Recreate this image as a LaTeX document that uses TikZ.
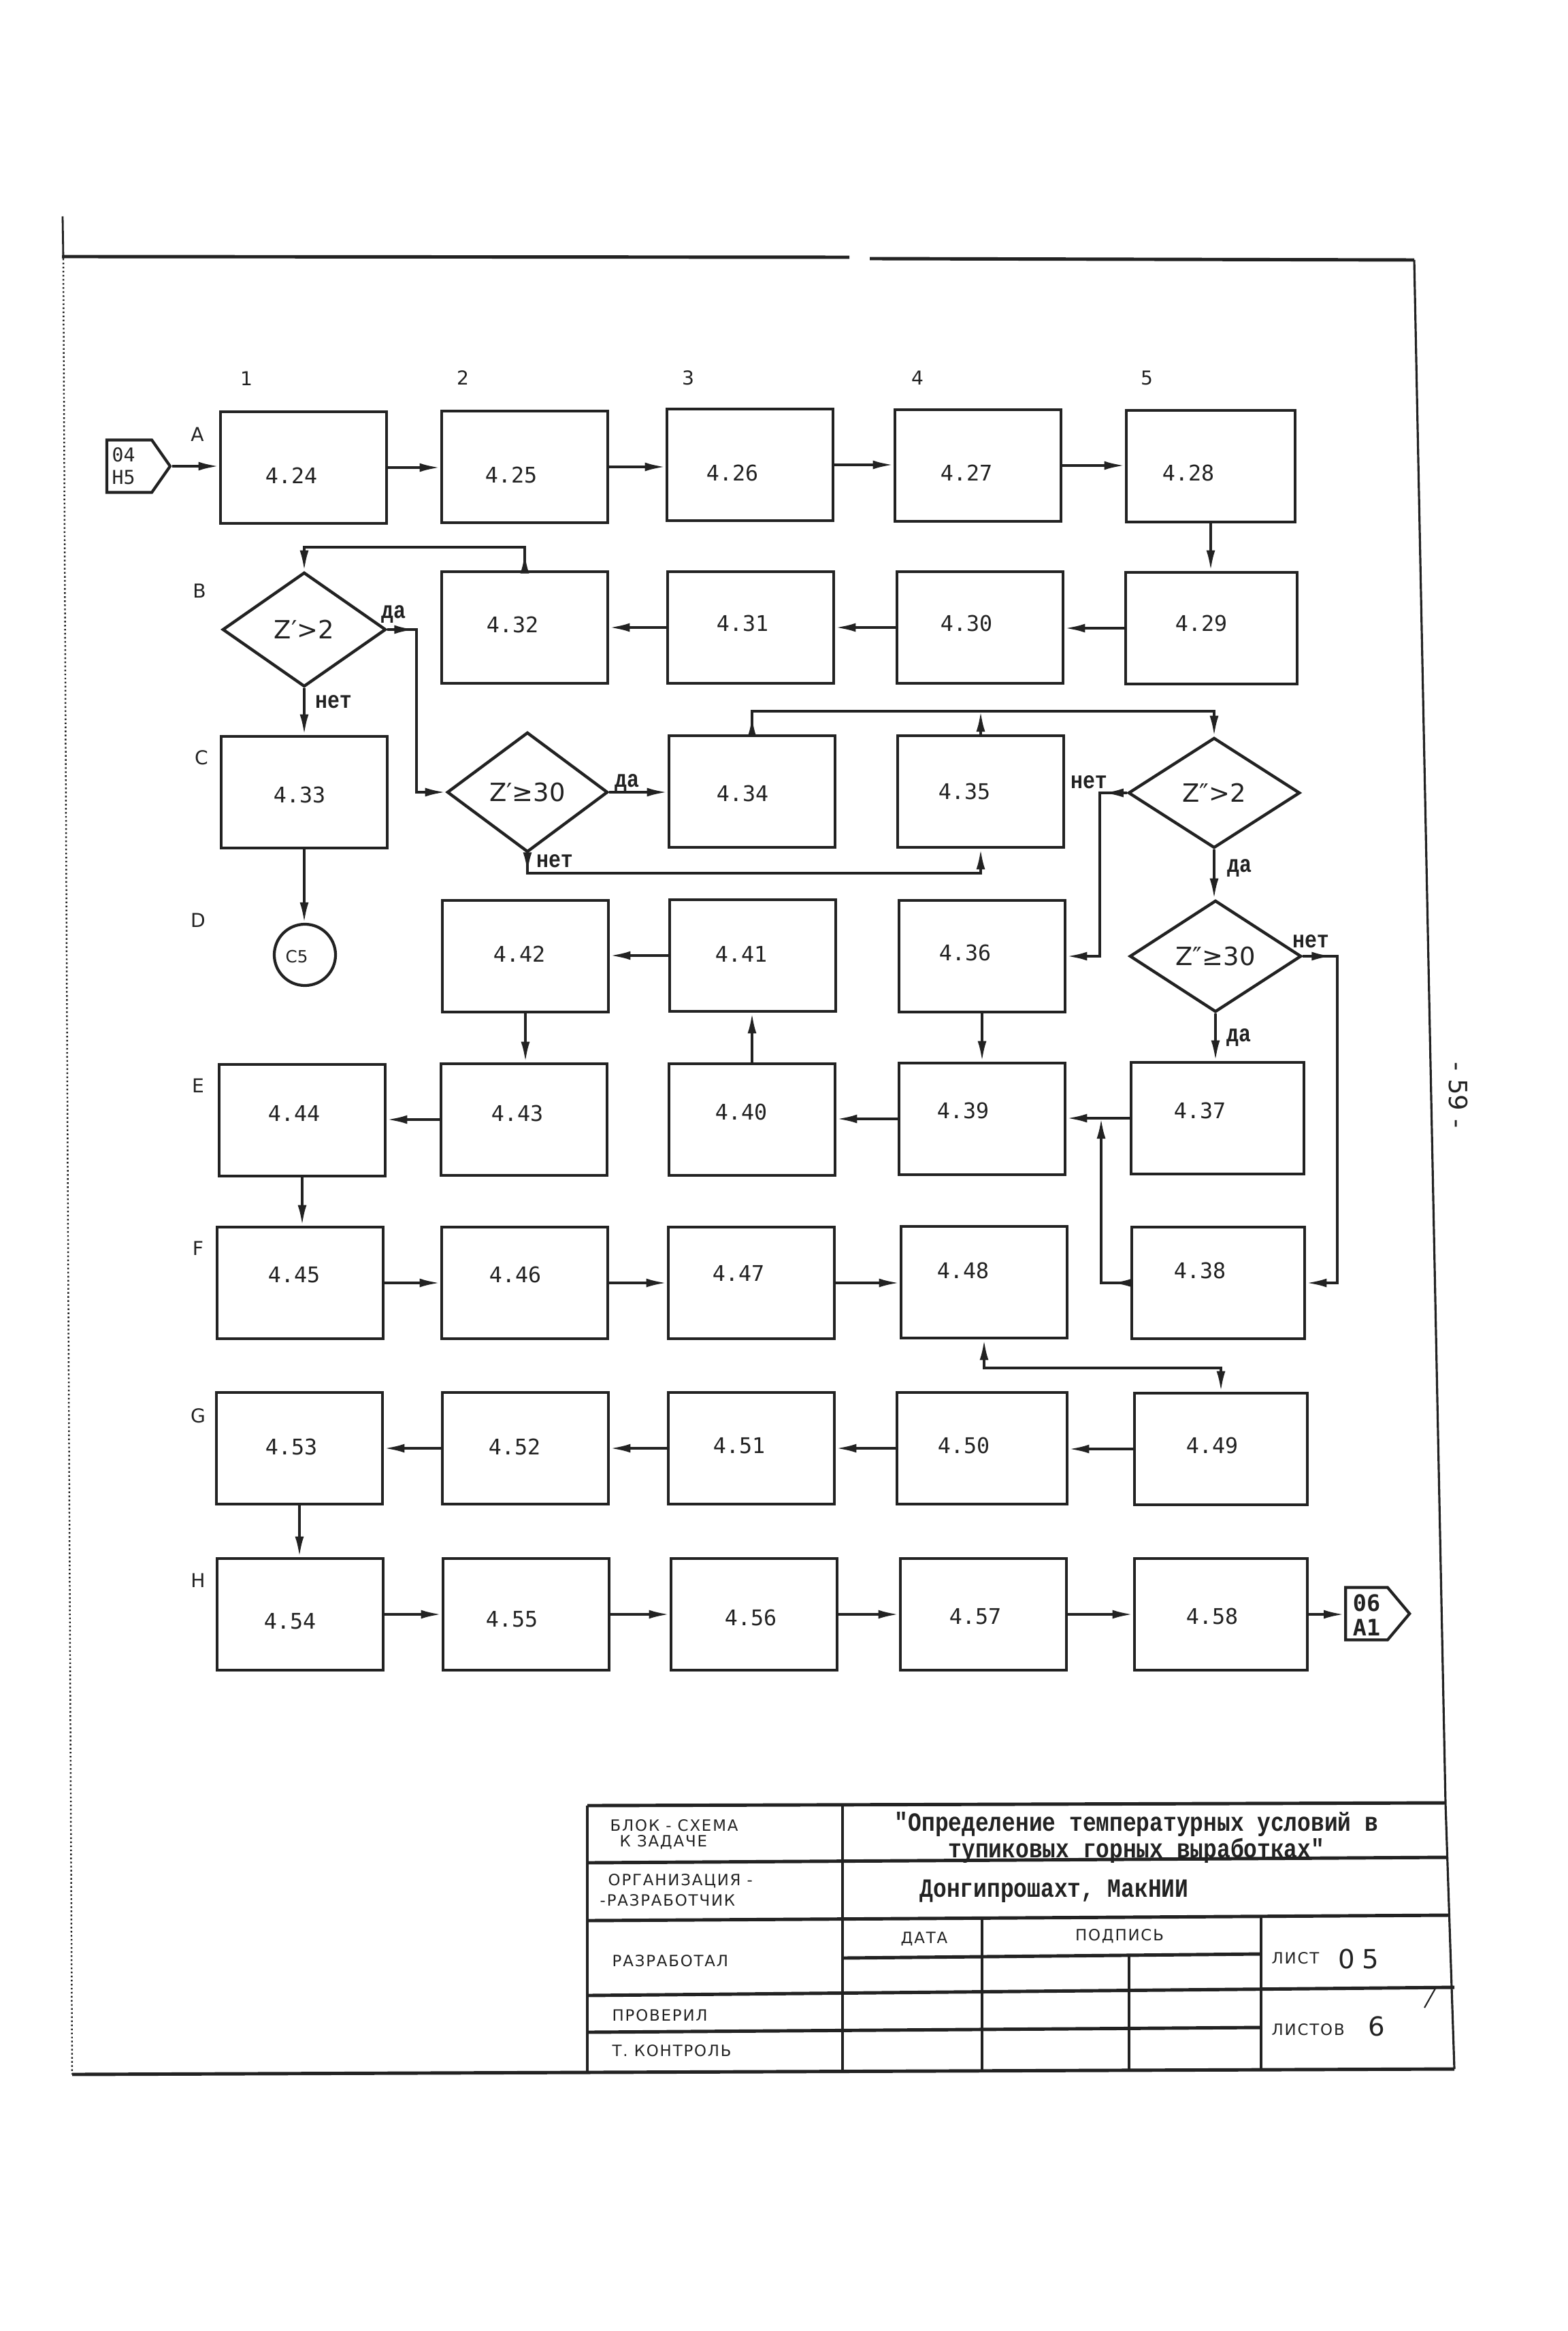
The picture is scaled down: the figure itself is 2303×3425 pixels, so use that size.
\documentclass[tikz,border=0pt]{standalone}
\usepackage{fontspec}
\setmainfont{DejaVu Sans}
\newfontfamily\boxfamily{DejaVu Sans Mono}
\newfontfamily\twfamily[FakeStretch=0.85]{Liberation Mono}
\newfontfamily\gostfamily[LetterSpace=8]{DejaVu Sans}
\usetikzlibrary{arrows.meta,shapes.geometric,shapes.symbols,decorations.markings}
\definecolor{ink}{HTML}{222222}
\newcommand\mybox[7][]{%
  \node[boxnode,#1] (#2) at (#3,#4) {};
  \path (#2.center) ++(#5,#6) node[boxtxt] (#2t) {#7};}
\begin{document}
\begin{tikzpicture}[x=0.01cm, y=-0.01cm, >={Latex[length=3mm,width=1.3mm]},
 boxnode/.style={draw=ink, line width=1.35pt, minimum width=2.44cm, minimum height=1.64cm, inner sep=0pt},
 boxtxt/.style={text=ink, inner sep=0pt, font=\boxfamily\fontsize{9}{10}\selectfont},
 dia/.style={diamond, aspect=1.4, draw=ink, line width=1.25pt, minimum width=2.4cm, minimum height=1.68cm, inner sep=0pt, text=ink, font=\fontsize{10.5}{12}\selectfont},
 conn/.style={draw=ink, line width=1.05pt},
 tipat/.style={postaction={decorate,decoration={markings,mark=at position #1 with {\arrow{>}}}}},
 yesno/.style={text=ink, inner sep=0pt, font=\twfamily\bfseries\fontsize{10}{11}\selectfont},
 gridlbl/.style={text=ink, inner sep=0pt, font=\fontsize{8}{9}\selectfont},
 gost/.style={text=ink, inner sep=0pt, anchor=west, font=\gostfamily\fontsize{6.5}{7.5}\selectfont},
 twtext/.style={text=ink, inner sep=0pt, font=\twfamily\bfseries\fontsize{11}{8.6}\selectfont},
 frame/.style={draw=ink, line width=1.4pt},
 thinframe/.style={draw=ink, line width=0.9pt},
 conno/.style={signal, signal to=east, draw=ink, line width=1.2pt, inner sep=0pt, minimum height=0.77cm}
]
\fill[white] (0,0) rectangle (2303,3425);
\useasboundingbox (0,0) rectangle (2303,3425);

% ---------- frame ----------
\draw[ink, line width=0.8pt] (92,318) -- (93,380);
\draw[ink, line width=0.7pt, densely dotted] (93,380) -- (106,3048);
\draw[frame] (91,377) -- (1248,378);
\draw[frame] (1278,380) -- (2078,382);
\draw[thinframe] (2078,382) -- (2124,2650) -- (2137,3040);
\draw[frame] (106,3048) -- (2137,3040);

% ---------- grid labels ----------
\node[gridlbl] (col1) at (362,556) {1};
\node[gridlbl] (col2) at (680,555) {2};
\node[gridlbl] (col3) at (1011,555) {3};
\node[gridlbl] (col4) at (1348,555) {4};
\node[gridlbl] (col5) at (1685,555) {5};
\node[gridlbl] (rowA) at (290,638) {A};
\node[gridlbl] (rowB) at (293,868) {B};
\node[gridlbl] (rowC) at (296,1113) {C};
\node[gridlbl] (rowD) at (291,1352) {D};
\node[gridlbl] (rowE) at (291,1595) {E};
\node[gridlbl] (rowF) at (291,1834) {F};
\node[gridlbl] (rowG) at (291,2080) {G};
\node[gridlbl] (rowH) at (291,2322) {H};

% ---------- connectors in/out ----------
\node[conno, signal pointer angle=110, minimum width=0.93cm] (in) at (190,685) {};
\node[text=ink, inner sep=0pt, anchor=west, align=left, font=\boxfamily\fontsize{8}{9.4}\selectfont] (intxt) at (164,685) {04\\H5};
\node[conno, signal pointer angle=100, minimum width=0.94cm] (out) at (2008,2371) {};
\node[text=ink, inner sep=0pt, align=center, font=\boxfamily\bfseries\fontsize{9.5}{10.2}\selectfont] (outtxt) at (2008,2373) {06\\A1};

% ---------- boxes ----------
\mybox{a24}{446}{687}{-18}{12}{4.24}
\mybox{a25}{771}{686}{-20}{12}{4.25}
\mybox{a26}{1102}{683}{-26}{12}{4.26}
\mybox{a27}{1437}{684}{-17}{11}{4.27}
\mybox[minimum width=2.48cm]{a28}{1779}{685}{-33}{10}{4.28}

\mybox{b32}{771}{922}{-18}{-4}{4.32}
\mybox{b31}{1103}{922}{-12}{-6}{4.31}
\mybox{b30}{1440}{922}{-20}{-6}{4.30}
\mybox[minimum width=2.52cm]{b29}{1780}{923}{-15}{-7}{4.29}

\mybox{b33}{447}{1164}{-7}{4}{4.33}
\mybox{b34}{1105}{1163}{-14}{3}{4.34}
\mybox{b35}{1441}{1163}{-24}{0}{4.35}

\mybox{b42}{772}{1405}{-9}{-3}{4.42}
\mybox{b41}{1106}{1404}{-17}{-2}{4.41}
\mybox{b36}{1443}{1405}{-25}{-5}{4.36}

\mybox{b44}{444}{1646}{-12}{-10}{4.44}
\mybox{b43}{770}{1645}{-10}{-9}{4.43}
\mybox{b40}{1105}{1645}{-16}{-11}{4.40}
\mybox{b39}{1443}{1644}{-28}{-12}{4.39}
\mybox[minimum width=2.54cm]{b37}{1789}{1643}{-26}{-11}{4.37}

\mybox{b45}{441}{1885}{-9}{-12}{4.45}
\mybox{b46}{771}{1885}{-14}{-12}{4.46}
\mybox{b47}{1104}{1885}{-19}{-14}{4.47}
\mybox{b48}{1446}{1884}{-31}{-17}{4.48}
\mybox[minimum width=2.54cm]{b38}{1790}{1885}{-27}{-18}{4.38}

\mybox{b53}{440}{2128}{-12}{-2}{4.53}
\mybox{b52}{772}{2128}{-16}{-2}{4.52}
\mybox{b51}{1104}{2128}{-18}{-4}{4.51}
\mybox[minimum width=2.5cm]{b50}{1443}{2128}{-27}{-4}{4.50}
\mybox[minimum width=2.54cm]{b49}{1794}{2129}{-13}{-5}{4.49}

\mybox{b54}{441}{2372}{-15}{10}{4.54}
\mybox{b55}{773}{2372}{-21}{7}{4.55}
\mybox{b56}{1108}{2372}{-5}{5}{4.56}
\mybox{b57}{1445}{2372}{-12}{3}{4.57}
\mybox[minimum width=2.54cm]{b58}{1794}{2372}{-13}{3}{4.58}

% ---------- decisions ----------
\node[dia] (d1) at (447,925) {Z′>2};
\node[dia, minimum width=2.36cm, minimum height=1.76cm] (d2) at (775,1164) {Z′≥30};
\node[dia, minimum width=2.52cm, minimum height=1.62cm] (d3) at (1784,1165) {Z″>2};
\node[dia, minimum width=2.52cm, minimum height=1.64cm] (d4) at (1786,1405) {Z″≥30};

\node[circle, draw=ink, line width=1.2pt, minimum size=0.9cm, inner sep=0pt] (c5) at (448,1403) {};
\path (c5.center) ++(-12,3) node[text=ink, inner sep=0pt, font=\fontsize{7}{8}\selectfont] (c5t) {C5};

% ---------- yes / no labels ----------
\node[yesno] (y1) at (578,903) {да};
\node[yesno] (n1) at (490,1031) {нет};
\node[yesno] (y2) at (921,1151) {да};
\node[yesno] (n2) at (815,1265) {нет};
\node[yesno] (n3) at (1600,1149) {нет};
\node[yesno] (y3) at (1821,1276) {да};
\node[yesno] (n4) at (1926,1383) {нет};
\node[yesno] (y4) at (1820,1525) {да};

% ---------- bend points ----------
\coordinate (t1) at (771,804);
\coordinate (t2) at (612,925);
\coordinate (t3) at (775,1283);
\coordinate (t4) at (1105,1045);
\coordinate (t5) at (1616,1165);
\coordinate (t6) at (1965,1405);
\coordinate (j1) at (1618,1643);
\coordinate (t7) at (1446,2010);

% ---------- connectors ----------
\draw[conn,->] (in.east) -- (in.east -| a24.west);
\draw[conn,->] (a24.east) -- (a24.east -| a25.west);
\draw[conn,->] (a25.east) -- (a25.east -| a26.west);
\draw[conn,->] (a26.east) -- (a26.east -| a27.west);
\draw[conn,->] (a27.east) -- (a27.east -| a28.west);
\draw[conn,->] (a28.south) -- (a28.south |- b29.north);
\draw[conn,->] (b29.west) -- (b29.west -| b30.east);
\draw[conn,->] (b30.west) -- (b30.west -| b31.east);
\draw[conn,->] (b31.west) -- (b31.west -| b32.east);
\draw[conn,->,tipat=2.5mm] (b32.north) -- (t1) -| (d1.north);
\draw[conn,->,tipat=4mm] (d1.east) -- (t2) |- (d2.west);
\draw[conn,->] (d1.south) -- (d1.south |- b33.north);
\draw[conn,->] (b33.south) -- (b33.south |- c5.north);
\draw[conn,->] (d2.east) -- (d2.east -| b34.west);
\draw[conn,->,tipat=2.8mm] (d2.south) -- (t3) -| (b35.south);
\draw[conn,->,tipat=2.6mm] (b34.north) -- (t4) -| (d3.north);
\draw[conn,->] (b35.north) -- (b35.north |- t4);
\draw[conn,->,tipat=3.5mm] (d3.west) -- (t5) |- (b36.east);
\draw[conn,->] (d3.south) -- (d3.south |- d4.north);
\draw[conn,->,tipat=4.3mm] (d4.east) -- (t6) |- (b38.east);
\draw[conn,->] (d4.south) -- (d4.south |- b37.north);
\draw[conn,->] (b37.west) -- (b37.west -| b39.east);
\draw[conn,->,tipat=2.7mm] (b38.west) -| (j1);
\draw[conn,->] (b36.south) -- (b36.south |- b39.north);
\draw[conn,->] (b39.west) -- (b39.west -| b40.east);
\draw[conn,->] (b40.north) -- (b40.north |- b41.south);
\draw[conn,->] (b41.west) -- (b41.west -| b42.east);
\draw[conn,->] (b42.south) -- (b42.south |- b43.north);
\draw[conn,->] (b43.west) -- (b43.west -| b44.east);
\draw[conn,->] (b44.south) -- (b44.south |- b45.north);
\draw[conn,->] (b45.east) -- (b45.east -| b46.west);
\draw[conn,->] (b46.east) -- (b46.east -| b47.west);
\draw[conn,->] (b47.east) -- (b47.east -| b48.west);
\draw[conn,<->] (b48.south) -- (t7) -| (b49.north);
\draw[conn,->] (b49.west) -- (b49.west -| b50.east);
\draw[conn,->] (b50.west) -- (b50.west -| b51.east);
\draw[conn,->] (b51.west) -- (b51.west -| b52.east);
\draw[conn,->] (b52.west) -- (b52.west -| b53.east);
\draw[conn,->] (b53.south) -- (b53.south |- b54.north);
\draw[conn,->] (b54.east) -- (b54.east -| b55.west);
\draw[conn,->] (b55.east) -- (b55.east -| b56.west);
\draw[conn,->] (b56.east) -- (b56.east -| b57.west);
\draw[conn,->] (b57.east) -- (b57.east -| b58.west);
\draw[conn,->] (b58.east) -- (b58.east -| out.west);

% ---------- page number ----------
\node[text=ink, rotate=-90, inner sep=0pt, font=\fontsize{10.5}{12}\selectfont] (pg) at (2143,1609) {- 59 -};

% ---------- title block ----------
\draw[frame] (863,2653) -- (2124,2649);
\draw[frame] (863,2653) -- (863,3043);
\draw[thinframe] (1238,2653) -- (1238,3042);
\draw[frame] (863,2737) -- (2126,2729);
\draw[frame] (863,2822) -- (2128,2814);
\draw[thinframe] (1443,2818) -- (1443,3041);
\draw[thinframe] (1853,2816) -- (1853,3039);
\draw[frame] (1238,2877) -- (1853,2871);
\draw[thinframe] (1659,2873) -- (1659,3040);
\draw[frame] (863,2932) -- (2137,2920);
\draw[frame] (863,2986) -- (1853,2979);
\draw[ink, line width=0.6pt] (2093,2950) -- (2110,2920);

\node[gost] (tb1) at (896,2682) {БЛОК - СХЕМА};
\node[gost] (tb2) at (910,2707) {К ЗАДАЧЕ};
\node[gost] (tb3) at (893,2764) {ОРГАНИЗАЦИЯ -};
\node[gost] (tb4) at (881,2792) {-РАЗРАБОТЧИК};
\node[gost] (tb5) at (899,2881) {РАЗРАБОТАЛ};
\node[gost] (tb6) at (899,2961) {ПРОВЕРИЛ};
\node[gost] (tb7) at (899,3013) {Т. КОНТРОЛЬ};
\node[gost, anchor=center] (tb8) at (1358,2849) {ДАТА};
\node[gost, anchor=center] (tb9) at (1645,2845) {ПОДПИСЬ};
\node[gost] (tb10) at (1868,2877) {ЛИСТ};
\node[gost] (tb11) at (1868,2982) {ЛИСТОВ};
\node[text=ink, inner sep=0pt, anchor=west, font=\fontsize{11}{12}\selectfont] (tb12) at (1966,2878) {0\kern3pt 5};
\node[text=ink, inner sep=0pt, font=\fontsize{11}{12}\selectfont] (tb13) at (2023,2977) {6};
\node[twtext, align=center] (ttl) at (1670,2700) {"Определение температурных условий в\\тупиковых горных выработках"};
\node[twtext, anchor=west] (org) at (1351,2779) {Донгипрошахт, МакНИИ};
\end{tikzpicture}
\end{document}
